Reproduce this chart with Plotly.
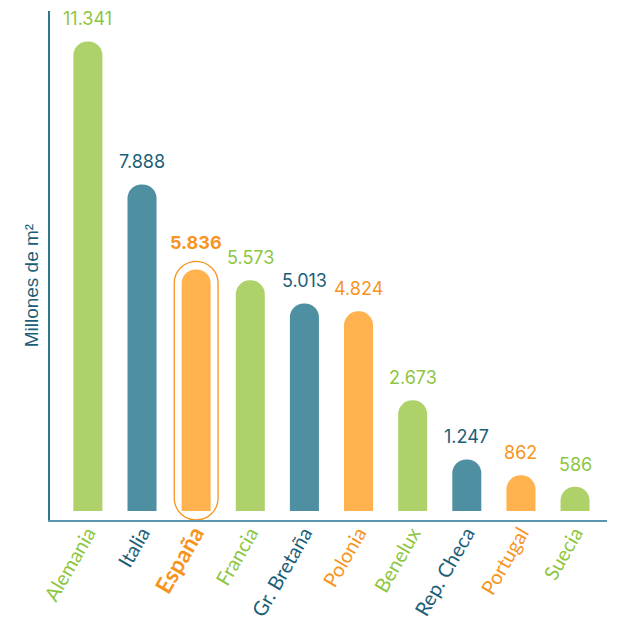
import plotly.graph_objects as go

# Datos
paises = ["Alemania", "Italia", "España", "Francia", "Gr. Bretaña",
          "Polonia", "Benelux", "Rep. Checa", "Portugal", "Suecia"]
valores = [11341, 7888, 5836, 5573, 5013, 4824, 2673, 1247, 862, 586]
etiquetas = ["11.341", "7.888", "5.836", "5.573", "5.013",
             "4.824", "2.673", "1.247", "862", "586"]
grupo = ["verde", "azul", "naranja", "verde", "azul",
         "naranja", "verde", "azul", "naranja", "verde"]
destacado = "España"

# Colores
relleno = {"verde": "#AED16A", "azul": "#4E8FA2", "naranja": "#FFB24E"}
texto = {"verde": "#8DC63F", "azul": "#1B5E78", "naranja": "#F7941D"}

y_min, y_max = -217, 12077
x_rango = [-0.70, 9.59]
idx = paises.index(destacado)
margen = 195

fig = go.Figure()

fig.add_trace(go.Bar(
    x=paises,
    y=valores,
    width=0.536,
    marker=dict(color=[relleno[g] for g in grupo], cornerradius="50%",
                line=dict(width=0)),
))

# contorno de España (en ejes superpuestos para no romper el redondeo)
fig.add_trace(go.Bar(
    x=[destacado],
    y=[valores[idx] + margen - y_min],
    base=[y_min],
    width=0.81,
    xaxis="x2", yaxis="y2",
    marker=dict(color="rgba(0,0,0,0)", cornerradius="50%",
                line=dict(color=texto["naranja"], width=1.3)),
    hoverinfo="skip",
))

# etiquetas de valor
for p, v, t, g in zip(paises, valores, etiquetas, grupo):
    es = p == destacado
    fig.add_annotation(
        x=p, y=v + (margen if es else 0), xref="x", yref="y",
        text="<b>" + t + "</b>" if es else t,
        showarrow=False, yanchor="bottom", yshift=6 if es else 10,
        font=dict(family="Inter, Lato, sans-serif", size=18, color=texto[g]),
    )

ticktext = []
for p, g in zip(paises, grupo):
    if p == destacado:
        ticktext.append(f"<span style='color:{texto[g]}; font-size:23px'><b>{p}</b></span>")
    else:
        ticktext.append(f"<span style='color:{texto[g]}'>{p}</span>")

fig.add_annotation(
    x=0, y=0.46, xref="paper", yref="paper",
    text="Millones de m²", textangle=-90, showarrow=False,
    xanchor="right", yanchor="middle", xshift=-6,
    font=dict(family="Liberation Sans, Arial, sans-serif", size=19, color="#1B5E78"),
)

# la página añade 8 px de margen al cuerpo
fig.update_layout(
    width=621, height=622,
    margin=dict(l=42, r=22, t=3, b=110),
    barmode="overlay",
    showlegend=False,
    plot_bgcolor="white",
    paper_bgcolor="white",
    xaxis=dict(
        range=x_rango, automargin=False,
        categoryorder="array", categoryarray=paises,
        tickmode="array", tickvals=paises, ticktext=ticktext,
        tickangle=-60, ticks="", showgrid=False, zeroline=False,
        ticklabelstandoff=-8,
        showline=True, linecolor="#5A97AC", linewidth=1.5,
        tickfont=dict(family="Lato, sans-serif", size=20),
    ),
    yaxis=dict(
        range=[y_min, y_max], showticklabels=False, ticks="",
        showgrid=False, zeroline=False, automargin=False,
        showline=True, linecolor="#2F7690", linewidth=1.5,
    ),
    xaxis2=dict(
        range=x_rango, overlaying="x", matches="x", visible=False,
        categoryorder="array", categoryarray=paises,
    ),
    yaxis2=dict(
        range=[y_min, y_max], overlaying="y", visible=False,
    ),
)

fig.write_html("out.html")
